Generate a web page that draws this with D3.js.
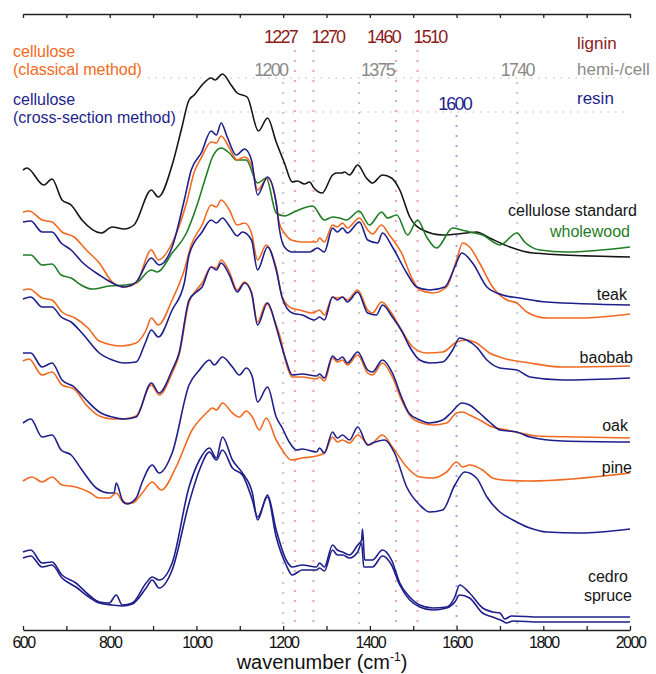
<!DOCTYPE html>
<html>
<head>
<meta charset="utf-8">
<script src="https://cdn.jsdelivr.net/npm/d3@7"></script>
<style>
  body { margin: 0; background: #fff; }
  text { font-family: "Liberation Sans", Arial, sans-serif; }
</style>
</head>
<body>
<div id="chart"></div>
<script>
// wavenumber (cm-1), absorbance with stacking offset (arbitrary units)
const celluloseStandard = [[600,454],[609,456],[648,439],[667,445],[690,424],[711,419],[736,404],[780,391],[806,397],[833,395],[856,399],[896,434],[912,427],[944,459],[965,494],[983,524],[995,529],[1013,539],[1034,546],[1043,544],[1060,550],[1080,539],[1094,531],[1117,527],[1143,493],[1164,506],[1184,482],[1203,461],[1221,442],[1233,443],[1249,440],[1261,442],[1271,436],[1290,431],[1314,449],[1323,451],[1335,451],[1342,452],[1353,449],[1372,459],[1392,446],[1406,441],[1429,449],[1450,446],[1469,434],[1492,407],[1522,394],[1568,389],[1623,391],[1646,392],[1676,386],[1723,377],[1776,371],[2000,367]];

const wholewood = [[600,369],[618,369],[644,359],[667,360],[688,349],[711,346],[734,339],[759,335],[799,338],[838,339],[861,341],[896,354],[910,352],[944,371],[977,391],[1000,417],[1023,449],[1037,467],[1057,476],[1076,471],[1092,464],[1115,464],[1141,441],[1161,446],[1184,411],[1203,408],[1225,412],[1268,418],[1295,404],[1314,407],[1330,406],[1346,404],[1375,413],[1399,399],[1427,412],[1441,406],[1462,409],[1487,389],[1510,404],[1531,387],[1554,376],[1591,396],[1612,394],[1630,392],[1660,389],[1700,379],[1739,391],[1757,382],[1792,374],[1854,372],[2000,377]];

const teakClassical = [[600,412],[614,413],[644,404],[667,402],[690,392],[718,387],[746,374],[776,361],[806,342],[833,337],[861,341],[896,374],[912,364],[944,381],[977,421],[995,452],[1011,466],[1034,482],[1046,481],[1057,488],[1076,476],[1094,464],[1111,467],[1127,459],[1141,434],[1164,446],[1184,421],[1191,401],[1203,391],[1219,384],[1244,382],[1277,382],[1284,386],[1295,382],[1314,399],[1325,397],[1337,401],[1348,396],[1376,406],[1395,394],[1406,390],[1427,399],[1445,389],[1473,371],[1499,344],[1515,334],[1545,331],[1577,337],[1600,364],[1614,381],[1630,377],[1653,361],[1683,337],[1716,324],[1739,321],[1762,312],[1808,306],[1884,306],[2000,310]];

const teakSection = [[600,402],[618,403],[644,392],[667,392],[688,381],[711,374],[736,362],[776,349],[806,341],[833,337],[861,342],[896,366],[914,359],[944,377],[972,424],[988,454],[1011,471],[1034,493],[1046,489],[1057,501],[1071,487],[1092,469],[1111,475],[1127,464],[1141,429],[1164,447],[1184,421],[1191,396],[1203,377],[1221,372],[1261,372],[1279,376],[1295,372],[1314,396],[1325,392],[1337,396],[1348,391],[1376,402],[1395,384],[1418,381],[1429,391],[1452,377],[1485,351],[1508,337],[1538,334],[1573,337],[1596,357],[1612,371],[1637,361],[1670,337],[1706,329],[1746,326],[1808,322],[2000,319]];

const baobabClassical = [[600,334],[614,335],[644,326],[667,324],[690,312],[720,306],[750,296],[776,283],[828,278],[861,281],[884,294],[896,306],[912,299],[944,324],[972,354],[988,379],[1013,399],[1034,419],[1046,417],[1057,424],[1076,414],[1094,399],[1111,401],[1127,391],[1141,364],[1161,379],[1184,356],[1198,327],[1219,316],[1238,314],[1268,311],[1284,314],[1295,309],[1314,327],[1325,326],[1337,327],[1348,324],[1372,334],[1395,314],[1406,311],[1427,322],[1450,311],[1469,297],[1499,277],[1531,271],[1568,272],[1600,282],[1623,284],[1646,281],[1676,271],[1706,266],[1769,261],[1845,257],[2000,258]];

const baobabSection = [[600,325],[618,327],[644,317],[667,317],[688,307],[711,302],[736,291],[776,271],[806,264],[833,261],[861,262],[882,281],[896,294],[912,287],[944,314],[972,341],[983,369],[1013,392],[1034,404],[1046,401],[1060,406],[1076,398],[1094,388],[1106,392],[1127,384],[1141,354],[1164,377],[1184,354],[1198,326],[1221,311],[1244,309],[1272,304],[1284,307],[1295,304],[1314,327],[1325,324],[1337,327],[1348,322],[1372,332],[1395,311],[1415,309],[1429,319],[1452,307],[1476,291],[1492,277],[1515,264],[1538,261],[1568,262],[1591,274],[1607,286],[1623,284],[1646,277],[1670,264],[1700,256],[1739,254],[1769,247],[1845,244],[2000,246]];

const oakClassical = [[600,263],[614,265],[644,249],[667,252],[690,239],[718,235],[746,219],[776,208],[806,205],[833,205],[861,208],[896,239],[914,229],[944,251],[960,269],[983,322],[1000,334],[1013,341],[1034,357],[1046,356],[1057,364],[1076,352],[1094,334],[1111,342],[1127,332],[1141,302],[1161,321],[1184,299],[1195,284],[1205,264],[1221,247],[1244,247],[1277,245],[1284,247],[1295,243],[1314,266],[1325,262],[1337,264],[1348,259],[1372,269],[1395,251],[1406,249],[1429,261],[1452,247],[1473,224],[1497,206],[1520,201],[1545,199],[1577,201],[1600,211],[1614,212],[1630,209],[1653,204],[1683,197],[1716,194],[1746,191],[1785,188],[1884,187],[2000,186]];

const oakSection = [[600,271],[618,271],[644,257],[667,261],[690,244],[718,237],[746,224],[776,212],[806,207],[833,205],[861,207],[896,241],[914,231],[944,254],[960,271],[983,324],[1000,332],[1013,337],[1034,357],[1046,354],[1057,361],[1076,349],[1094,332],[1111,341],[1127,331],[1141,299],[1164,321],[1184,297],[1195,280],[1205,266],[1221,249],[1244,250],[1277,248],[1284,250],[1295,246],[1314,268],[1325,264],[1337,267],[1348,261],[1372,272],[1395,254],[1406,252],[1429,264],[1452,251],[1473,227],[1490,211],[1515,204],[1538,201],[1568,204],[1589,212],[1612,221],[1630,219],[1653,211],[1676,202],[1700,194],[1739,192],[1769,187],[1845,183],[2000,182]];

const pineClassical = [[600,143],[621,147],[644,142],[667,147],[690,139],[722,137],[752,132],[776,126],[799,126],[815,131],[833,121],[852,121],[875,131],[898,142],[919,134],[953,157],[990,194],[1023,211],[1037,216],[1046,214],[1060,221],[1083,211],[1099,207],[1115,213],[1129,207],[1145,194],[1161,206],[1184,184],[1198,174],[1219,164],[1244,166],[1277,168],[1295,171],[1314,187],[1325,182],[1337,184],[1353,181],[1372,189],[1399,179],[1429,189],[1452,177],[1485,157],[1515,147],[1545,146],[1577,152],[1600,162],[1614,157],[1630,159],[1660,154],[1683,146],[1706,144],[1769,143],[2000,151]];

const pineSection = [[600,201],[618,205],[644,187],[667,189],[688,174],[711,169],[736,154],[769,136],[799,131],[810,131],[815,141],[829,124],[840,120],[861,126],[875,142],[898,159],[914,151],[944,171],[983,239],[1007,254],[1030,264],[1041,259],[1060,267],[1083,257],[1099,249],[1115,256],[1129,247],[1141,222],[1164,237],[1184,207],[1198,196],[1214,182],[1231,174],[1244,175],[1277,172],[1284,176],[1295,171],[1314,192],[1325,186],[1337,189],[1353,184],[1372,197],[1395,179],[1406,181],[1434,184],[1457,171],[1485,137],[1515,119],[1538,112],[1568,114],[1596,139],[1619,152],[1646,146],[1670,127],[1700,112],[1730,104],[1769,96],[1808,92],[1884,91],[2000,95]];

const cedroSection = [[600,72],[618,74],[644,61],[667,62],[690,49],[722,41],[752,29],[776,22],[799,21],[815,29],[829,19],[852,21],[884,41],[898,47],[914,44],[944,61],[983,137],[1007,164],[1030,176],[1046,166],[1060,187],[1083,164],[1106,151],[1129,131],[1141,104],[1164,129],[1184,94],[1207,64],[1221,57],[1244,59],[1277,57],[1284,61],[1295,57],[1314,79],[1325,74],[1337,72],[1353,69],[1372,79],[1381,84],[1383,95],[1388,64],[1406,64],[1429,74],[1450,64],[1469,41],[1492,27],[1515,19],[1545,16],[1577,17],[1596,27],[1607,39],[1630,31],[1660,16],[1683,12],[1700,11],[1711,5],[1727,8],[1792,7],[2000,7]];

const spruceSection = [[600,66],[618,68],[644,57],[667,59],[690,46],[722,37],[752,27],[776,21],[806,19],[829,18],[852,20],[884,36],[898,44],[914,36],[944,54],[983,121],[1007,154],[1030,172],[1046,164],[1060,174],[1083,156],[1106,149],[1129,124],[1141,107],[1164,127],[1184,87],[1207,59],[1221,49],[1244,54],[1277,54],[1284,56],[1295,53],[1314,74],[1325,69],[1337,69],[1353,66],[1372,72],[1381,81],[1386,57],[1406,57],[1429,68],[1450,59],[1469,39],[1492,24],[1515,17],[1545,14],[1577,16],[1596,22],[1607,29],[1630,26],[1660,11],[1683,7],[1706,3],[1715,1],[1730,3],[1792,2],[2000,2]];

// band assignments
const bandWaves  = [1227, 1270, 1460, 1510, 1200, 1375, 1740, 1600];
const bandGroups = ["lignin", "lignin", "lignin", "lignin", "hemi", "hemi", "hemi", "resin"];
const xTicks = d3.range(600, 2001, 100);

const W = 656, H = 674;
const orange = "#f26a22", navy = "#1f1f8c", green = "#1f7d24", black = "#151515";

const series = [
  { data: celluloseStandard, color: black },
  { data: wholewood, color: green },
  { data: teakClassical, color: orange },
  { data: teakSection, color: navy },
  { data: baobabClassical, color: orange },
  { data: baobabSection, color: navy },
  { data: oakClassical, color: orange },
  { data: oakSection, color: navy },
  { data: pineClassical, color: orange },
  { data: pineSection, color: navy },
  { data: cedroSection, color: navy },
  { data: spruceSection, color: navy }
];

const x = d3.scaleLinear().domain([600, 2000]).range([23, 630]);
const y = d3.scaleLinear().domain([-6, 610]).range([630, 14]);

const svg = d3.select("#chart").append("svg")
  .attr("width", W)
  .attr("height", H);

const groupStyle = {
  lignin: { label: "#8c1b1b", dot: "#f3a2b3", top: 50, base: 43 },
  hemi:   { label: "#8a8a8a", dot: "#c6c6c6", top: 82, base: 76 },
  resin:  { label: "#1f1f8c", dot: "#a2a2e0", top: 115, base: 110 }
};
const labelPos = {
  1227: ["end", 2], 1270: ["start", -2], 1460: ["end", 4], 1510: ["start", -4],
  1200: ["end", 4], 1375: ["start", 2], 1740: ["middle", 0], 1600: ["middle", -2]
};

// horizontal dotted guides
svg.append("line").attr("x1", 148).attr("x2", 630).attr("y1", 78).attr("y2", 78)
  .attr("stroke", "#cfcfcf").attr("stroke-width", 1.3).attr("stroke-dasharray", "1.5,6");
svg.append("line").attr("x1", 180).attr("x2", 630).attr("y1", 112).attr("y2", 112)
  .attr("stroke", "#cfcfcf").attr("stroke-width", 1.3).attr("stroke-dasharray", "1.5,6");

// vertical band lines
bandWaves.forEach((w, i) => {
  let g = groupStyle[bandGroups[i]];
  svg.append("line")
    .attr("x1", x(w)).attr("x2", x(w))
    .attr("y1", g.top).attr("y2", 626)
    .attr("stroke", g.dot)
    .attr("stroke-width", 2)
    .attr("stroke-dasharray", "2,8");
  svg.append("text")
    .attr("x", x(w) + labelPos[w][1])
    .attr("y", g.base)
    .attr("text-anchor", labelPos[w][0])
    .attr("fill", g.label)
    .attr("font-size", 18)
    .attr("letter-spacing", "-1.8px")
    .text(w);
});

// spectra
const line = d3.line()
  .x(d => x(d[0]))
  .y(d => y(d[1]))
  .curve(d3.curveMonotoneX);

svg.append("g").selectAll("path")
  .data(series)
  .enter()
  .append("path")
  .attr("d", d => line(d.data))
  .attr("fill", "none")
  .attr("stroke", d => d.color)
  .attr("stroke-width", 1.6)
  .attr("stroke-linejoin", "round");

// axes
const topAxis = d3.axisBottom(x).tickValues(xTicks).tickSizeInner(4).tickSizeOuter(0).tickFormat("");
svg.append("g").attr("transform", "translate(0,14)").call(topAxis);

const bottomAxis = d3.axisBottom(x).tickValues(xTicks).tickSizeInner(-4).tickSizeOuter(0)
  .tickPadding(7)
  .tickFormat(d => d % 200 === 0 ? d : "");
let gx = svg.append("g").attr("transform", "translate(0,630)").call(bottomAxis);

svg.selectAll(".domain").attr("stroke", "#222").attr("stroke-width", 1.6);
svg.selectAll(".tick line").attr("stroke", "#222").attr("stroke-width", 1.3);
gx.selectAll(".tick text")
  .attr("font-family", "Liberation Sans, Arial, sans-serif")
  .attr("font-size", 16)
  .attr("letter-spacing", "-1.5px")
  .attr("fill", "#111");

let title = svg.append("text")
  .attr("x", 322).attr("y", 669)
  .attr("text-anchor", "middle")
  .attr("font-size", 20)
  .attr("fill", "#111");
title.append("tspan").text("wavenumber (cm");
title.append("tspan").attr("font-size", 12).attr("dy", -8).text("-1");
title.append("tspan").attr("dy", 8).text(")");

// legend texts
const leg = [
  ["cellulose", 13, 57, orange], ["(classical method)", 13, 75, orange],
  ["cellulose", 13, 105, navy], ["(cross-section method)", 13, 123, navy]
];
leg.forEach(l => {
  svg.append("text").attr("x", l[1]).attr("y", l[2]).attr("fill", l[3])
    .attr("font-size", 16).text(l[0]);
});

const rightLeg = [["lignin", 49, "#8c1b1b"], ["hemi-/cell", 75, "#8a8a8a"], ["resin", 104, navy]];
rightLeg.forEach(l => {
  svg.append("text").attr("x", 577).attr("y", l[1]).attr("fill", l[2])
    .attr("font-size", 17).text(l[0]);
});

// curve names
const names = [
  ["cellulose standard", 637, 216, black], ["wholewood", 630, 237, green],
  ["teak", 627, 300, black], ["baobab", 633, 363, black], ["oak", 628, 431, black],
  ["pine", 632, 473, black], ["cedro", 628, 582, black], ["spruce", 632, 601, black]
];
names.forEach(n => {
  svg.append("text").attr("x", n[1]).attr("y", n[2]).attr("fill", n[3])
    .attr("text-anchor", "end").attr("font-size", 16).text(n[0]);
});
</script>
</body>
</html>
